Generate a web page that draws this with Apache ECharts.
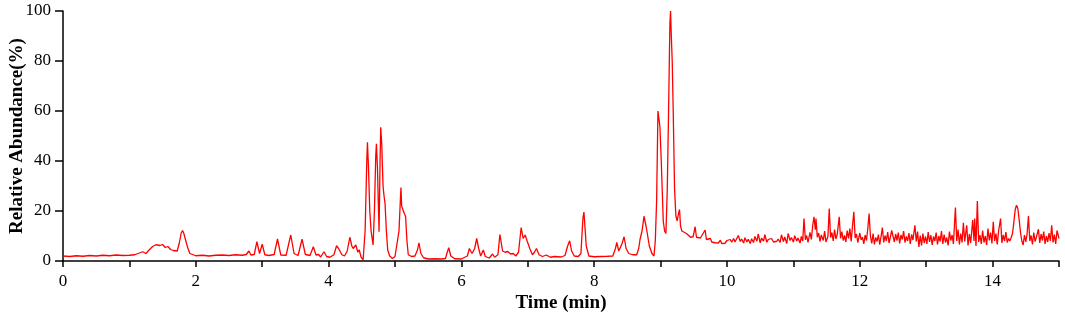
<!DOCTYPE html>
<html>
<head>
<meta charset="utf-8">
<script src="https://cdn.jsdelivr.net/npm/echarts@6/dist/echarts.min.js"></script>
<style>
  html, body { margin: 0; padding: 0; background: #fff; }
  #main { width: 1065px; height: 318px; }
</style>
</head>
<body>
<div id="main"></div>
<script>
// [time (min), relative abundance (%)]
const earlyTrace = [
  [0, 2.0], [0.1, 1.8], [0.2, 2.1], [0.3, 1.9], [0.4, 2.2], [0.5, 2.0], [0.6, 2.3], [0.7, 2.1],
  [0.8, 2.4], [0.9, 2.2], [1.0, 2.3], [1.08, 2.5], [1.15, 3.2], [1.2, 3.7], [1.25, 3.0], [1.3, 4.5],
  [1.35, 5.8], [1.4, 6.5], [1.43, 7.3], [1.46, 6.2], [1.5, 6.6], [1.54, 5.4], [1.58, 5.8], [1.62, 4.6],
  [1.66, 4.2], [1.69, 4.8], [1.72, 4.0], [1.75, 7.0], [1.78, 11.2], [1.8, 12.2], [1.82, 11.0], [1.85, 8.0],
  [1.88, 5.2], [1.91, 3.0], [1.94, 2.2], [2.0, 2.1], [2.1, 2.3], [2.2, 2.0], [2.3, 2.3], [2.4, 2.4],
  [2.5, 2.2], [2.6, 2.5], [2.7, 2.3], [2.76, 2.6], [2.8, 4.0], [2.83, 2.4], [2.88, 2.6], [2.92, 7.7],
  [2.96, 3.0], [3.0, 6.7], [3.04, 2.5], [3.1, 2.2], [3.18, 2.6], [3.23, 8.8], [3.28, 2.4], [3.36, 2.3],
  [3.43, 10.4], [3.48, 3.0], [3.54, 2.2], [3.6, 8.7], [3.65, 2.6], [3.72, 2.2], [3.77, 5.7], [3.81, 2.4],
  [3.85, 2.6], [3.88, 1.6], [3.93, 3.7], [3.97, 1.8], [4.02, 1.5], [4.08, 2.5], [4.12, 6.1], [4.15, 5.0],
  [4.17, 5.8], [4.2, 2.5], [4.24, 2.0], [4.28, 4.0], [4.32, 9.5], [4.35, 6.0], [4.37, 5.0], [4.41, 6.4],
  [4.44, 3.5], [4.46, 4.5], [4.49, 1.5], [4.52, 0.5]
];

const midTrace = [
  [4.55, 12], [4.575, 40], [4.585, 47.5], [4.6, 38], [4.62, 20], [4.64, 12], [4.67, 6.4], [4.69, 20],
  [4.71, 42], [4.72, 46.9], [4.735, 38], [4.75, 22], [4.76, 11.7], [4.775, 40], [4.785, 53.5], [4.8, 47],
  [4.82, 30], [4.835, 26], [4.85, 23], [4.87, 12], [4.89, 4.4], [4.92, 2.0], [4.96, 1.0], [5.0, 1.8],
  [5.03, 2.5], [5.06, 12], [5.08, 24], [5.09, 29.4], [5.1, 22], [5.12, 21.7], [5.14, 19], [5.16, 17.7],
  [5.18, 8], [5.2, 2.5], [5.25, 1.8], [5.3, 2.0], [5.34, 4.5], [5.36, 7.3], [5.39, 3.0], [5.43, 1.3],
  [5.5, 0.8], [5.6, 0.9], [5.7, 0.8], [5.76, 1.0], [5.79, 3.8], [5.81, 5.3], [5.84, 2.0], [5.9, 0.9],
  [6.0, 0.8], [6.05, 1.5], [6.09, 2.0], [6.12, 5.0], [6.16, 3.0], [6.2, 5.0], [6.23, 9.0], [6.26, 5.0],
  [6.29, 2.0], [6.33, 4.4], [6.36, 1.8], [6.42, 1.2], [6.47, 2.8], [6.5, 1.5], [6.55, 2.5], [6.58, 10.6],
  [6.62, 4.0], [6.66, 3.5], [6.7, 3.8], [6.74, 2.8], [6.78, 3.0], [6.82, 2.0], [6.86, 3.5], [6.9, 13.4],
  [6.93, 9.0], [6.96, 10.4], [6.99, 8.0], [7.03, 5.0], [7.07, 2.5], [7.1, 3.5], [7.13, 5.0], [7.17, 2.5],
  [7.22, 1.8], [7.28, 2.4], [7.34, 1.5], [7.4, 1.8], [7.5, 1.6], [7.56, 2.2], [7.6, 6.0], [7.63, 8.1],
  [7.66, 4.0], [7.7, 2.0], [7.76, 1.8], [7.8, 3.0], [7.83, 17], [7.845, 19.6], [7.86, 14], [7.88, 6],
  [7.92, 2.0], [8.0, 1.7], [8.1, 1.8], [8.2, 1.9], [8.28, 2.0], [8.32, 5.0], [8.34, 7.4], [8.37, 4.0],
  [8.39, 3.7], [8.42, 7], [8.45, 9.7], [8.48, 5], [8.52, 3.0], [8.58, 2.5], [8.64, 2.5], [8.67, 5],
  [8.69, 8.6], [8.72, 12], [8.75, 17.9], [8.78, 14], [8.8, 11], [8.83, 6], [8.87, 3], [8.9, 2]
];

const mainTrace = [
  [8.92, 8], [8.94, 24], [8.96, 60], [8.975, 57], [8.99, 53.5], [9.01, 40], [9.025, 28], [9.04, 16],
  [9.06, 12], [9.08, 11], [9.1, 28], [9.12, 60], [9.14, 95], [9.15, 100], [9.16, 91], [9.175, 80],
  [9.19, 60], [9.21, 29], [9.23, 18], [9.25, 16], [9.27, 19], [9.285, 20.6], [9.3, 14], [9.32, 12],
  [9.35, 11.5], [9.39, 11], [9.42, 10.4], [9.45, 9.5], [9.49, 9.7], [9.52, 13.7], [9.54, 9.5], [9.57, 8.8],
  [9.6, 9.2], [9.63, 8.5], [9.67, 12.4], [9.69, 8.6]
];

const tailTrace = [
  [9.72, 8.0], [9.75, 9.0], [9.77, 7.6], [9.80, 8.4], [9.82, 7.3], [9.85, 8.1], [9.87, 7.2], [9.90, 8.3],
  [9.92, 7.0], [9.95, 7.8], [9.97, 7.1], [10.00, 8.2], [10.02, 7.4], [10.05, 8.6], [10.07, 7.5], [10.10, 9.0],
  [10.12, 7.6], [10.15, 8.4], [10.17, 10.2], [10.20, 7.8], [10.22, 8.8], [10.25, 7.2], [10.27, 9.3], [10.30, 7.6],
  [10.32, 8.7], [10.35, 7.0], [10.37, 8.9], [10.40, 7.4], [10.42, 9.8], [10.45, 7.9], [10.47, 10.8], [10.50, 7.3],
  [10.52, 9.1], [10.55, 8.0], [10.57, 10.5], [10.60, 7.5], [10.62, 8.6], [10.65, 7.8], [10.67, 9.0], [10.70, 7.6],
  [10.72, 8.3], [10.75, 7.9], [10.77, 8.8], [10.80, 7.4], [10.82, 10.5], [10.85, 7.8], [10.87, 9.6], [10.90, 7.0],
  [10.92, 11.0], [10.95, 8.2], [10.97, 9.4], [11.00, 7.6], [11.02, 10.1], [11.05, 8.0], [11.07, 9.2], [11.10, 7.2],
  [11.12, 9.8], [11.14, 8.0], [11.16, 17.0], [11.18, 8.5], [11.20, 10.2], [11.22, 7.4], [11.25, 11.5], [11.27, 8.6],
  [11.29, 14.0], [11.31, 17.7], [11.33, 12.5], [11.34, 17.0], [11.36, 9.5], [11.38, 11.2], [11.40, 7.8], [11.42, 10.4],
  [11.45, 8.2], [11.47, 12.0], [11.49, 7.6], [11.52, 9.8], [11.54, 21.0], [11.56, 9.4], [11.58, 11.4], [11.60, 8.0],
  [11.62, 12.6], [11.64, 8.8], [11.66, 10.6], [11.69, 17.7], [11.71, 9.0], [11.73, 11.8], [11.75, 8.2], [11.77, 10.2],
  [11.79, 7.6], [11.81, 12.2], [11.83, 9.0], [11.85, 13.0], [11.87, 7.8], [11.89, 14.0], [11.91, 19.7], [11.93, 9.2],
  [11.95, 10.8], [11.97, 7.4], [12.00, 11.2], [12.02, 8.4], [12.04, 9.6], [12.06, 6.8], [12.08, 10.4], [12.10, 8.2],
  [12.12, 12.8], [12.14, 19.0], [12.16, 10.0], [12.18, 7.0], [12.20, 11.0], [12.22, 6.6], [12.24, 9.4], [12.26, 7.8],
  [12.28, 10.6], [12.30, 6.5], [12.32, 9.8], [12.34, 13.4], [12.36, 7.4], [12.38, 10.2], [12.40, 8.0], [12.42, 11.6],
  [12.44, 7.2], [12.46, 9.6], [12.48, 12.2], [12.50, 13.0], [12.52, 7.6], [12.54, 10.8], [12.56, 8.2], [12.58, 11.4],
  [12.60, 7.0], [12.62, 10.4], [12.64, 8.6], [12.66, 12.0], [12.68, 7.4], [12.70, 9.8], [12.72, 8.0], [12.74, 11.2],
  [12.76, 6.8], [12.78, 10.6], [12.80, 8.4], [12.83, 14.3], [12.85, 7.8], [12.87, 11.8], [12.89, 5.6], [12.91, 10.2],
  [12.93, 6.2], [12.95, 11.0], [12.97, 7.2], [12.99, 9.8], [13.01, 6.8], [13.03, 11.6], [13.05, 7.6], [13.07, 10.4],
  [13.09, 6.4], [13.11, 9.8], [13.13, 8.0], [13.15, 11.4], [13.17, 6.6], [13.19, 10.0], [13.21, 7.8], [13.23, 12.0],
  [13.25, 6.8], [13.27, 10.6], [13.29, 7.4], [13.31, 9.4], [13.33, 6.2], [13.35, 11.8], [13.37, 8.2], [13.39, 10.4],
  [13.41, 6.8], [13.44, 21.4], [13.46, 8.0], [13.48, 12.6], [13.50, 6.6], [13.52, 11.0], [13.54, 7.4], [13.56, 15.3],
  [13.58, 7.8], [13.61, 14.3], [13.63, 6.2], [13.65, 10.8], [13.67, 7.2], [13.70, 16.4], [13.72, 8.0], [13.73, 17.0],
  [13.75, 6.0], [13.77, 24.0], [13.79, 7.6], [13.81, 10.4], [13.83, 6.8], [13.85, 12.2], [13.87, 7.4], [13.89, 10.0],
  [13.91, 6.4], [13.93, 13.0], [13.95, 8.2], [13.97, 11.4], [13.99, 7.0], [14.01, 15.7], [14.03, 8.0], [14.05, 11.0],
  [14.07, 6.6], [14.09, 12.0], [14.12, 17.0], [14.14, 7.2], [14.16, 10.4], [14.18, 8.0], [14.20, 11.6], [14.22, 7.4],
  [14.24, 9.0], [14.26, 8.0], [14.28, 9.4], [14.30, 11.0], [14.32, 15.5], [14.34, 20.5], [14.36, 22.3], [14.38, 21.0],
  [14.40, 16.5], [14.42, 11.5], [14.44, 8.0], [14.46, 6.4], [14.48, 10.4], [14.50, 7.6], [14.52, 11.0], [14.54, 18.0],
  [14.56, 8.0], [14.58, 10.2], [14.60, 6.6], [14.62, 11.4], [14.64, 7.8], [14.66, 9.6], [14.69, 12.7], [14.71, 7.2],
  [14.73, 10.8], [14.75, 8.2], [14.77, 11.8], [14.79, 6.8], [14.81, 10.0], [14.83, 7.6], [14.85, 11.2], [14.87, 8.0],
  [14.89, 14.3], [14.91, 7.4], [14.93, 10.6], [14.95, 6.8], [14.97, 12.2], [15.00, 9.0]
];

const xLabels = ['0', '2', '4', '6', '8', '10', '12', '14'];
const yTicks = [0, 20, 40, 60, 80, 100];

const serif = '"Liberation Serif", "DejaVu Serif", serif';

let chartDom = document.getElementById('main');
let myChart = echarts.init(chartDom, null, { renderer: 'canvas' });

const trace = [].concat(earlyTrace, midTrace, mainTrace, tailTrace);

let option = {
  animation: false,
  grid: { left: 63, right: 6, top: 11, bottom: 57, containLabel: false, outerBoundsMode: 'none' },
  xAxis: {
    type: 'value',
    min: 0,
    max: 15,
    interval: 1,
    name: 'Time (min)',
    nameLocation: 'middle',
    nameGap: 33,
    nameMoveOverlap: false,
    nameTextStyle: { fontFamily: serif, fontWeight: 'bold', fontSize: 19, color: '#000' },
    axisLine: { show: true, lineStyle: { color: '#000', width: 1.5 } },
    axisTick: { show: true, inside: false, length: 6, lineStyle: { color: '#000', width: 1.5 } },
    axisLabel: {
      fontFamily: serif,
      fontSize: 17,
      color: '#000',
      margin: 12,
      formatter: v => (xLabels.indexOf(String(v)) >= 0 ? String(v) : '')
    },
    splitLine: { show: false }
  },
  yAxis: {
    type: 'value',
    min: 0,
    max: 100,
    interval: 20,
    name: 'Relative Abundance(%)',
    nameLocation: 'middle',
    nameGap: 36,
    nameMoveOverlap: false,
    nameTextStyle: { fontFamily: serif, fontWeight: 'bold', fontSize: 19, color: '#000' },
    axisLine: { show: true, lineStyle: { color: '#000', width: 1.5 } },
    axisTick: { show: true, inside: false, length: 8, lineStyle: { color: '#000', width: 1.5 } },
    axisLabel: {
      fontFamily: serif,
      fontSize: 17,
      color: '#000',
      margin: 12,
      formatter: v => (yTicks.indexOf(v) >= 0 ? String(v) : '')
    },
    splitLine: { show: false }
  },
  series: [
    {
      type: 'line',
      data: trace,
      showSymbol: false,
      symbol: 'none',
      lineStyle: { color: '#ff0000', width: 1.3 },
      z: 3
    }
  ]
};

option && myChart.setOption(option);
</script>
</body>
</html>
